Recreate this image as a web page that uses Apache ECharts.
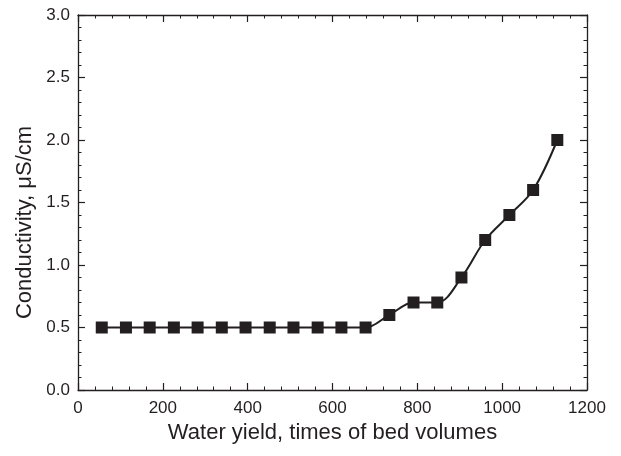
<!DOCTYPE html>
<html>
<head>
<meta charset="utf-8">
<script src="https://cdn.jsdelivr.net/npm/echarts@6/dist/echarts.min.js"></script>
<style>
  html, body { margin: 0; padding: 0; background: #ffffff; }
  #chart { width: 621px; height: 456px; }
</style>
</head>
<body>
<div id="chart"></div>
<script>
// Water yield (times of bed volumes) at each sampling point
const waterYield = [56, 113, 169, 226, 282, 339, 395, 452, 508, 565, 621, 678, 734, 791, 847, 904, 960, 1017, 1073, 1130];
// Effluent conductivity, µS/cm
const conductivity = [0.5, 0.5, 0.5, 0.5, 0.5, 0.5, 0.5, 0.5, 0.5, 0.5, 0.5, 0.5, 0.6, 0.7, 0.7, 0.9, 1.2, 1.4, 1.6, 2.0];

const ink = '#231f20';
const font = 'Liberation Sans, Arial, Helvetica, sans-serif';

const points = waterYield.map((x, i) => [x, conductivity[i]]);

function frameAxis(extra) {
  return Object.assign({
    type: 'value',
    axisLine: { show: true, onZero: false, lineStyle: { color: ink, width: 1.3 } },
    axisTick: { show: true, inside: true, length: 7, lineStyle: { color: ink, width: 1.2 } },
    minorTick: { show: true, splitNumber: 5, length: 3.5, lineStyle: { color: ink, width: 1 } },
    splitLine: { show: false },
    minorSplitLine: { show: false }
  }, extra);
}

const chart = echarts.init(document.getElementById('chart'), null, { renderer: 'canvas' });
chart.setOption({
  animation: false,
  backgroundColor: '#ffffff',
  grid: { left: 78, right: 34, top: 15, bottom: 66, containLabel: false },
  xAxis: [
    frameAxis({
      position: 'bottom', min: 0, max: 1200, interval: 200,
      axisLabel: { color: ink, fontFamily: font, fontSize: 17, margin: 10,
                   formatter: v => String(v) },
      name: 'Water yield, times of bed volumes',
      nameLocation: 'middle', nameGap: 26,
      nameTextStyle: { color: ink, fontFamily: font, fontSize: 22 }
    }),
    frameAxis({ position: 'top', min: 0, max: 1200, interval: 200, axisLabel: { show: false } })
  ],
  yAxis: [
    frameAxis({
      position: 'left', min: 0, max: 3, interval: 0.5,
      axisLabel: { color: ink, fontFamily: font, fontSize: 17, margin: 8,
                   formatter: v => v.toFixed(1) },
      name: 'Conductivity, \u03bcS/cm',
      nameLocation: 'middle', nameGap: 42,
      nameTextStyle: { color: ink, fontFamily: font, fontSize: 22, padding: [0, 40, 0, 0] }
    }),
    frameAxis({ position: 'right', min: 0, max: 3, interval: 0.5, axisLabel: { show: false } })
  ],
  series: [{
    type: 'line',
    data: points,
    smooth: 0.35,
    symbol: 'rect',
    symbolSize: 12,
    itemStyle: { color: ink },
    lineStyle: { color: ink, width: 2 }
  }]
});
</script>
</body>
</html>
